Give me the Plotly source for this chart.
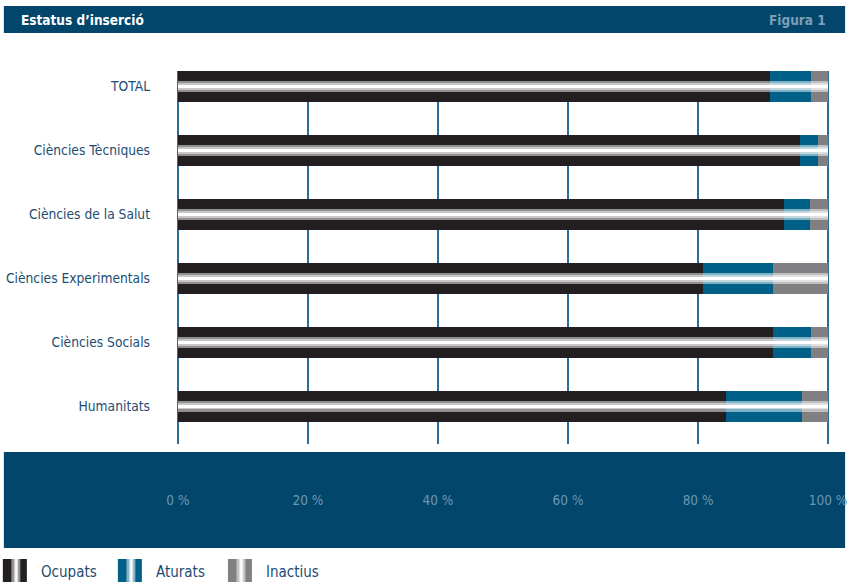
import plotly.graph_objects as go

categories = ["Humanitats", "Ciències Socials", "Ciències Experimentals",
              "Ciències de la Salut", "Ciències Tècniques", "TOTAL"]
ocupats = [84.3, 91.5, 80.8, 93.2, 95.7, 91.1]
aturats = [11.7, 5.9, 10.7, 4.0, 2.8, 6.3]
inactius = [4.0, 2.6, 8.5, 2.8, 1.5, 2.6]
series_names = ["Ocupats", "Aturats", "Inactius"]
tick_vals = [0, 20, 40, 60, 80, 100]
tick_text = ["0 %", "20 %", "40 %", "60 %", "80 %", "100 %"]

colors = ["#231f20", "#006087", "#808083"]
NAVY = "#02476b"
TXT = "#1d4d72"
GRID = "#2a6d99"
FONT = "Liberation Sans Narrow, DejaVu Sans Condensed, Arial Narrow, sans-serif"

W, H = 847, 584
PAD = 0.6                      # data units of padding on each side of 0..100
X0PX, X100PX = 178, 828        # pixel positions of 0 % and 100 %
UNIT = (X100PX - X0PX) / 100.0
L = X0PX - PAD * UNIT
R = X100PX + PAD * UNIT
T, B = 71, 444
XR = [-PAD, 100 + PAD]

def px(x):
    return (x - L) / (R - L)

def py(y):
    return (B - y) / (B - T)

fig = go.Figure()

series = [ocupats, aturats, inactius]
bases = [[0.0] * len(categories)]
for s in series[:-1]:
    bases.append([b + v for b, v in zip(bases[-1], s)])
totals = [a + b + c for a, b, c in zip(ocupats, aturats, inactius)]

BW = 0.484
for name, vals, base, col in zip(series_names, series, bases, colors):
    fig.add_trace(go.Bar(
        y=categories, x=vals, base=base, orientation="h", name=name,
        marker=dict(color=col, line=dict(width=0)), width=BW,
        showlegend=False, hoverinfo="x+name"))

# glossy stripe through the middle of each bar
for wfrac, col in [(0.17, "rgba(255,255,255,0.5)"),
                   (0.10, "rgba(255,255,255,0.5)"),
                   (0.045, "rgba(255,255,255,1)")]:
    fig.add_trace(go.Bar(
        y=categories, x=totals, base=[0] * len(categories), orientation="h",
        marker=dict(color=col, line=dict(width=0)), width=wfrac,
        showlegend=False, hoverinfo="skip"))

shapes = []
shapes.append(dict(type="rect", xref="paper", yref="paper", layer="below",
                   x0=px(4), x1=px(845), y0=py(33), y1=py(6),
                   fillcolor=NAVY, line=dict(width=0)))
shapes.append(dict(type="rect", xref="paper", yref="paper", layer="below",
                   x0=px(4), x1=px(845), y0=py(548), y1=py(452),
                   fillcolor=NAVY, line=dict(width=0)))

annotations = [
    dict(text="<b>Estatus d’inserció</b>", xref="paper", yref="paper",
         x=px(19), y=py(19.5), xanchor="left", yanchor="middle", showarrow=False,
         font=dict(family=FONT, size=13.5, color="white")),
    dict(text="<b>Figura 1</b>", xref="paper", yref="paper",
         x=px(828), y=py(19.5), xanchor="right", yanchor="middle", showarrow=False,
         font=dict(family=FONT, size=13.5, color="#7c9fb8")),
]

leg_x = [3, 118, 228]
for x0, name, col in zip(leg_x, series_names, colors):
    shapes.append(dict(type="rect", xref="paper", yref="paper",
                       x0=px(x0), x1=px(x0 + 24), y0=py(582), y1=py(559),
                       fillcolor=col, line=dict(width=0)))
    for a, b, c in [(8.5, 17.5, "rgba(255,255,255,0.5)"),
                    (11, 15.5, "rgba(255,255,255,0.5)"),
                    (12.3, 14.5, "rgba(255,255,255,0.9)")]:
        shapes.append(dict(type="rect", xref="paper", yref="paper",
                           x0=px(x0 + a), x1=px(x0 + b), y0=py(582), y1=py(559),
                           fillcolor=c, line=dict(width=0)))
    annotations.append(dict(text=name, xref="paper", yref="paper",
                            x=px(x0 + 36), y=py(572), xanchor="left", yanchor="middle",
                            showarrow=False,
                            font=dict(family=FONT, size=15, color=TXT)))

fig.update_layout(
    width=W, height=H,
    margin=dict(l=L, r=W - R, t=T, b=H - B, autoexpand=False),
    paper_bgcolor="white", plot_bgcolor="white",
    barmode="overlay", bargap=0,
    shapes=shapes, annotations=annotations,
    font=dict(family=FONT, size=14, color=TXT),
    showlegend=False,
    xaxis=dict(range=XR, tickvals=tick_vals, ticktext=tick_text,
               showgrid=True, gridcolor=GRID, gridwidth=1.5,
               zeroline=True, zerolinecolor=GRID, zerolinewidth=1.5,
               showline=False, ticks="", automargin=False,
               ticklabelstandoff=46, ticklabeloverflow="allow",
               tickfont=dict(family=FONT, size=13.5, color="#6b96b3"),
               fixedrange=True),
    yaxis=dict(type="category", categoryorder="array", categoryarray=categories,
               range=[-0.59, 5.242], showgrid=False, zeroline=False, showline=False,
               ticks="", ticklabelstandoff=23, automargin=False,
               tickfont=dict(family=FONT, size=13.7, color=TXT), fixedrange=True),
)

fig.write_html("out.html", config={"displayModeBar": False},
               post_script="document.body.style.margin='0';document.body.style.overflow='hidden';")
